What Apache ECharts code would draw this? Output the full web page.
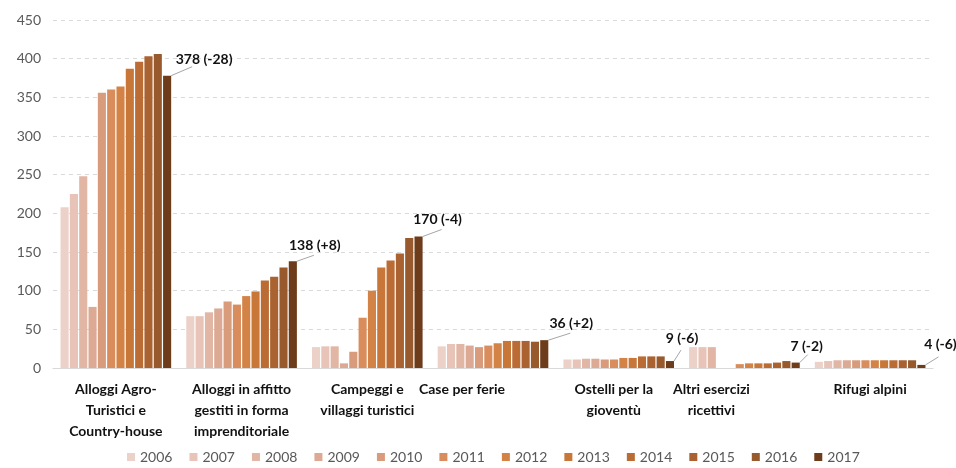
<!DOCTYPE html>
<html>
<head>
<meta charset="utf-8">
<script src="https://cdn.jsdelivr.net/npm/echarts@6/dist/echarts.min.js"></script>
<style>
  html, body { margin: 0; padding: 0; background: #fff; }
  #chart { width: 956px; height: 468px; }
</style>
</head>
<body>
<div id="chart"></div>
<script>
const categories = [
  'Alloggi Agro-\nTuristici e\nCountry-house',
  'Alloggi in affitto\ngestiti in forma\nimprenditoriale',
  'Campeggi e\nvillaggi turistici',
  'Case per ferie',
  'Ostelli per la\ngioventù',
  'Altri esercizi\nricettivi',
  'Rifugi alpini'
]
const years = ['2006', '2007', '2008', '2009', '2010', '2011', '2012', '2013', '2014', '2015', '2016', '2017']

// values per category, one per year (2006..2017)
const alloggiAgro = [208, 225, 248, 79, 356, 360, 364, 387, 396, 403, 406, 378]
const alloggiAffitto = [67, 67, 72, 77, 86, 82, 93, 99, 113, 118, 130, 138]
const campeggi = [27, 28, 28, 6, 21, 65, 100, 130, 139, 148, 168, 170]
const casePerFerie = [28, 31, 31, 29, 27, 29, 32, 35, 35, 35, 34, 36]
const ostelli = [11, 11, 12, 12, 11, 11, 13, 13, 15, 15, 15, 9]
const altriEsercizi = [27, 27, 27, null, null, 5, 6, 6, 6, 7, 9, 7]
const rifugi = [8, 9, 10, 10, 10, 10, 10, 10, 10, 10, 10, 4]

const lastYearLabels = ['378 (-28)', '138 (+8)', '170 (-4)', '36 (+2)', '9 (-6)', '7 (-2)', '4 (-6)']

const colors = ['#ecd1c9', '#e7c4b7', '#e1b6a5', '#dcaa94', '#d89c7c', '#d98c5c', '#d48346',
  '#c97739', '#bb6c34', '#a96230', '#985a2c', '#6c3c1b']
const labelMoves = [[37, -4], [22, -4], [19, -5], [27, -5], [12, -11], [11, -4], [19, -8]]
const leaderMoves = [[21, -9], [17, -6], [19, -7], [22, -7], [7, -11], [8, -8], [13, -8]]
const labelShift = [0, 0, 0, 62, 10, 66, 0]
const catGap = 0.12

const byCategory = [alloggiAgro, alloggiAffitto, campeggi, casePerFerie, ostelli, altriEsercizi, rifugi]

const series = years.map((y, i) => {
  const s = {
    name: y,
    type: 'bar',
    barGap: '15%',
    barCategoryGap: catGap * 100 + '%',
    itemStyle: { color: colors[i] },
    data: byCategory.map(c => c[i])
  }
  if (i === years.length - 1) {
    s.label = {
      show: true,
      position: 'top',
      formatter: p => lastYearLabels[p.dataIndex],
      fontFamily: 'Lato',
      fontWeight: 'bold',
      fontSize: 14,
      color: '#111'
    }
    s.labelLayout = p => ({ dx: labelMoves[p.dataIndex][0], dy: labelMoves[p.dataIndex][1] })
  }
  return s
})

// leader lines from the top-right corner of each 2017 bar towards its label
series.push({
  type: 'custom',
  silent: true,
  z: 5,
  data: byCategory.map((c, i) => [i, c[c.length - 1]]),
  renderItem: (params, api) => {
    const i = params.dataIndex
    const p = api.coord([i, api.value(1)])
    const catW = api.size([1, 0])[0]
    const x0 = p[0] + catW * (1 - catGap) / 2
    const y0 = p[1]
    return {
      type: 'line',
      shape: { x1: x0, y1: y0, x2: x0 + leaderMoves[i][0], y2: y0 + leaderMoves[i][1] },
      style: { stroke: '#a6a6a6', lineWidth: 1 }
    }
  }
})

const myChart = echarts.init(document.getElementById('chart'))
myChart.setOption({
  backgroundColor: '#fff',
  animation: false,
  grid: { left: 53, right: 23, top: 20, bottom: 100, containLabel: false },
  legend: {
    bottom: -1,
    left: 122,
    icon: 'rect',
    itemWidth: 8,
    itemHeight: 8,
    itemGap: 17,
    textStyle: { fontFamily: 'Lato', fontSize: 14, color: '#595959' },
    data: years
  },
  xAxis: {
    type: 'category',
    data: categories,
    axisLine: { lineStyle: { color: '#d9d9d9' } },
    axisTick: { show: false },
    axisLabel: {
      interval: 0,
      margin: 11,
      formatter: (v, i) => v.split('\n').map(l => '{s' + i + '|' + l + '}').join('\n'),
      rich: Object.fromEntries(labelShift.map((sh, i) => ['s' + i, {
        fontFamily: 'Lato',
        fontWeight: 'bold',
        fontSize: 14,
        lineHeight: 21,
        color: '#111',
        padding: [0, sh, 0, 0]
      }]))
    }
  },
  yAxis: {
    type: 'value',
    min: 0,
    max: 450,
    interval: 50,
    axisLine: { show: false },
    axisTick: { show: false },
    axisLabel: { fontFamily: 'Lato', fontSize: 14, color: '#595959', margin: 12 },
    splitLine: { lineStyle: { color: '#d9d9d9', type: [4, 4] } }
  },
  series: series
})
</script>
</body>
</html>
